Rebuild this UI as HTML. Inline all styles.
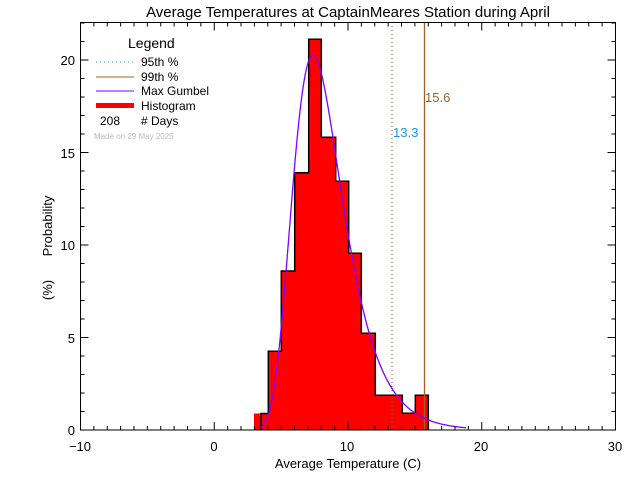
<!DOCTYPE html>
<html><head><meta charset="utf-8"><style>
html,body{margin:0;padding:0;background:#fff;}
svg{display:block;}
text{font-family:"Liberation Sans","DejaVu Sans",sans-serif;}
</style></head><body>
<svg id="svg" width="640" height="480" viewBox="0 0 640 480" xmlns="http://www.w3.org/2000/svg">
<rect width="640" height="480" fill="#fff"/>
<text x="348" y="17" font-size="15" text-anchor="middle" fill="#000">Average Temperatures at CaptainMeares Station during April</text>
<path d="M254,430 L254,413.5 L268.3,413.5 L268.3,351.3 L281.3,351.3 L281.3,271 L294.7,271 L294.7,172.7 L308.7,172.7 L308.7,39.3 L321.3,39.3 L321.3,137.3 L335.7,137.3 L335.7,181.3 L348.7,181.3 L348.7,253.3 L361.3,253.3 L361.3,333.3 L375.3,333.3 L375.3,395.3 L402.3,395.3 L402.3,413.3 L415.3,413.3 L415.3,395.3 L428.3,395.3 L428.3,430 Z" fill="#ff0000"/>
<path d="M261,430 L261,413.5 L268.3,413.5 L268.3,351.3 L281.3,351.3 L281.3,271 L294.7,271 L294.7,172.7 L308.7,172.7 L308.7,39.3 L321.3,39.3 L321.3,137.3 L335.7,137.3 L335.7,181.3 L348.7,181.3 L348.7,253.3 L361.3,253.3 L361.3,333.3 L375.3,333.3 L375.3,395.3 L402.3,395.3 L402.3,413.3 L415.3,413.3 L415.3,395.3 L428.3,395.3 L428.3,430" fill="none" stroke="#000" stroke-width="1.5"/>
<line x1="392" y1="22" x2="392" y2="430" stroke="#a0602a" stroke-width="1" stroke-dasharray="1,3"/>
<line x1="424.5" y1="22" x2="424.5" y2="430" stroke="#a0602a" stroke-width="1.3"/>
<text x="393" y="137" font-size="13" fill="#1e90ff">13.3</text>
<text x="425" y="102" font-size="13" fill="#a0602a">15.6</text>
<polyline id="g" fill="none" stroke="#8000ff" stroke-width="1.3" points=""/>
<rect x="80.5" y="22.5" width="535" height="407.5" fill="none" stroke="#000" stroke-width="1"/>
<g id="ticks" stroke="#000" stroke-width="1"></g>
<g font-size="13" fill="#000" text-anchor="middle">
<text x="80" y="451">−10</text><text x="214" y="451">0</text><text x="347" y="451">10</text><text x="481" y="451">20</text><text x="615" y="451">30</text>
</g>
<g font-size="13" fill="#000" text-anchor="end">
<text x="75" y="435">0</text><text x="75" y="343">5</text><text x="75" y="250">10</text><text x="75" y="158">15</text><text x="75" y="65">20</text>
</g>
<text x="348" y="468" font-size="13" text-anchor="middle">Average Temperature (C)</text>
<text transform="translate(52,226) rotate(-90)" font-size="13" text-anchor="middle">Probability</text>
<text transform="translate(52,290) rotate(-90)" font-size="13" text-anchor="middle">(%)</text>
<text x="128" y="48" font-size="14">Legend</text>
<line x1="96" y1="62" x2="134" y2="62" stroke="#1e90ff" stroke-dasharray="1,3"/>
<text x="141" y="66" font-size="12">95th %</text>
<line x1="96" y1="77" x2="134" y2="77" stroke="#a0602a"/>
<text x="141" y="81" font-size="12">99th %</text>
<line x1="96" y1="91" x2="134" y2="91" stroke="#8000ff"/>
<text x="141" y="95" font-size="12">Max Gumbel</text>
<rect x="96" y="103" width="38" height="5" fill="#ff0000"/>
<text x="141" y="110" font-size="12">Histogram</text>
<text x="100" y="125" font-size="12">208</text>
<text x="141" y="125" font-size="12"># Days</text>
<text x="94" y="139" font-size="8" fill="#bbbbbb">Made on 29 May 2025</text>
</svg>
<script>
(function(){
var NS="http://www.w3.org/2000/svg";
var p=[];for(var x=259;x<=466;x+=1){var z=(x-313)/25;var f=Math.exp(-(z+Math.exp(-z)))*Math.E;p.push(x+","+(430-375*f).toFixed(1));}
document.getElementById('g').setAttribute('points',p.join(' '));
var g=document.getElementById('ticks');
function ln(a,b,c,d){var l=document.createElementNS(NS,'line');l.setAttribute('x1',a);l.setAttribute('y1',b);l.setAttribute('x2',c);l.setAttribute('y2',d);g.appendChild(l);}
for(var v=-10;v<=30;v++){var x=80.5+(v+10)*13.375;var L=(v%10==0)?8:4;ln(x,430,x,430-L);ln(x,22.5,x,22.5+L);}
for(var v=0;v<=22;v++){var y=430-v*18.5;var L=(v%5==0)?8:4;ln(80.5,y,80.5+L,y);ln(615.5,y,615.5-L,y);}
})();
</script>
</body></html>
